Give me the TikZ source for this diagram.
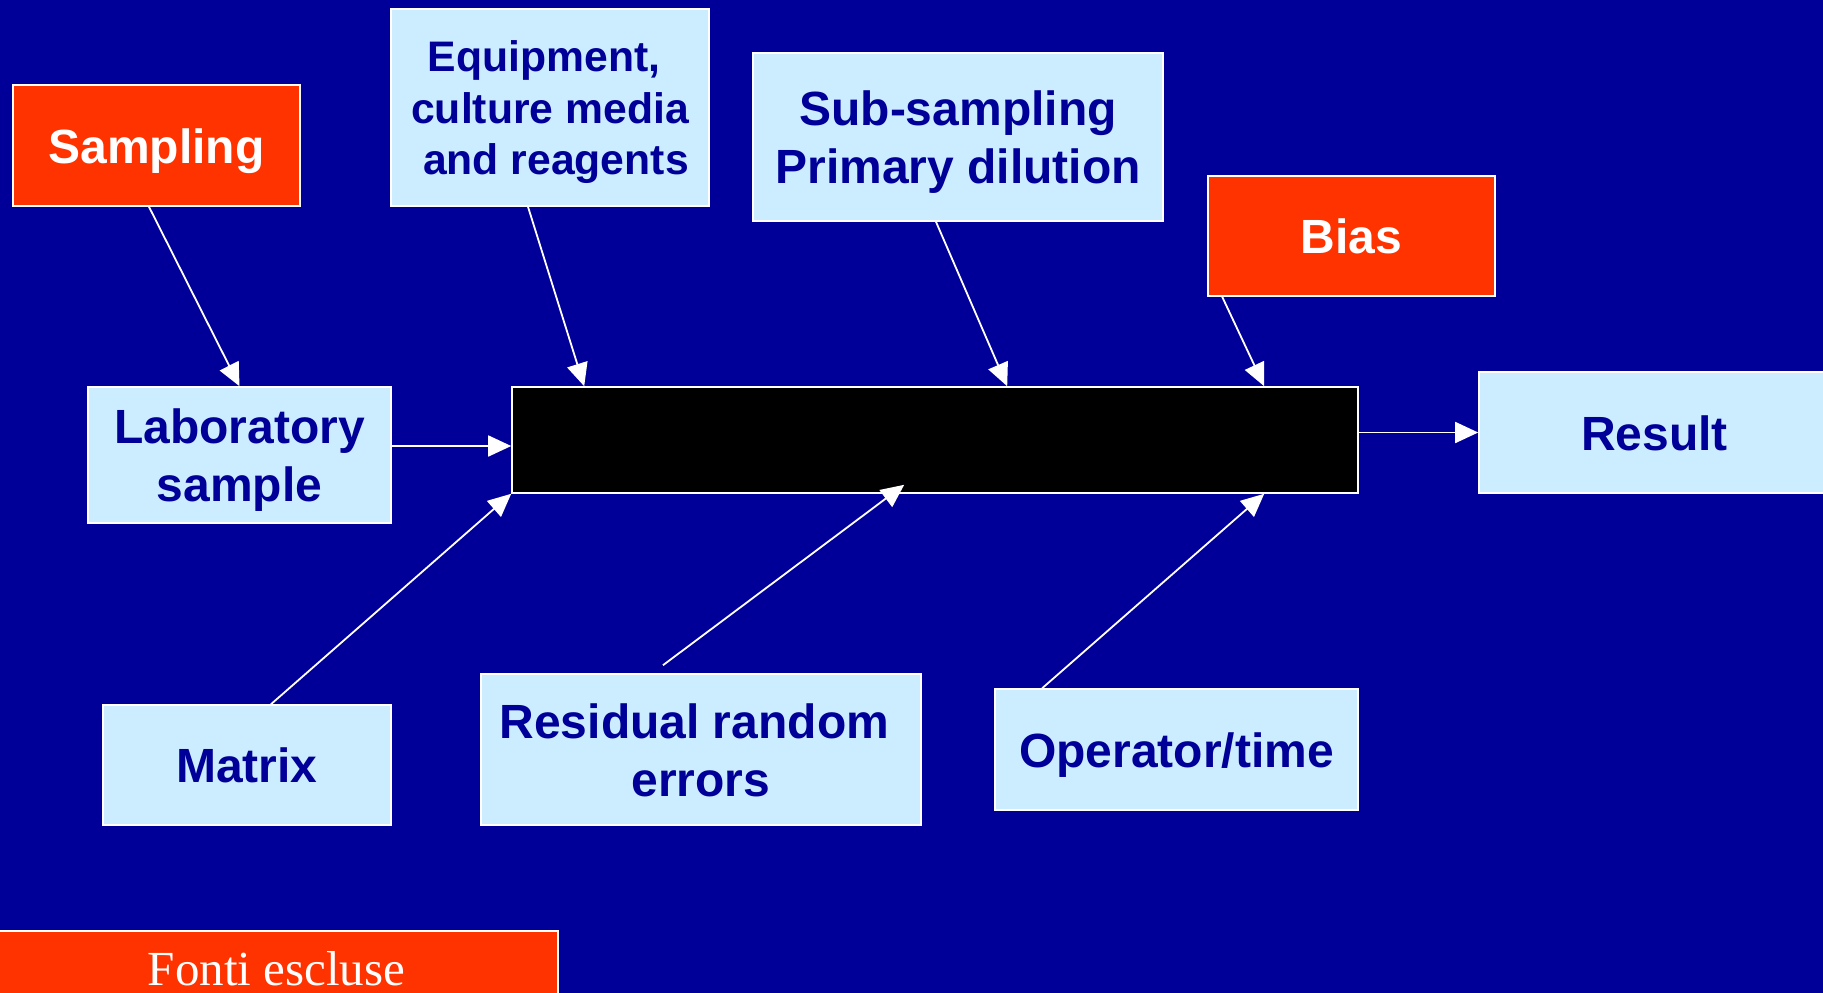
\documentclass[tikz,border=0pt]{standalone}
\usepackage{fontspec}
\setmainfont{Liberation Sans}
\newfontfamily\timesf{Liberation Serif}
\usetikzlibrary{arrows.meta,calc}
\definecolor{bgblue}{RGB}{0,0,153}
\definecolor{lblue}{RGB}{204,236,255}
\definecolor{redo}{RGB}{255,51,0}
\newcommand\pst{\rule[-0.21em]{0pt}{1.16em}}
\newcommand\padsp{\hspace*{0.278em}}
\begin{document}
\begin{tikzpicture}[x=1pt,y=-1pt,
  lbox/.style={draw=white,line width=1.6pt,fill=lblue,text=bgblue,align=center,inner sep=0pt,
    font=\fontsize{48}{58}\selectfont\bfseries},
  rbox/.style={lbox,fill=redo,text=white},
  conn/.style={draw=white,line width=1.8pt,-{Triangle[length=23pt,width=21pt]}}]
\useasboundingbox (0,0) rectangle (1823,993);
\fill[bgblue] (0,0) rectangle (1823,993);
\clip (0,0) rectangle (1823,993);
\node[rbox,minimum width=287pt,minimum height=121pt] (samp) at (156.5,145.5) {\pst Sampling};
\node[lbox,minimum width=318pt,minimum height=197pt,font=\fontsize{42.7}{51.5}\selectfont\bfseries] (equip) at (550,107.5) {\pst Equipment,\padsp\\culture media\\\padsp and reagents\pst};
\node[lbox,minimum width=410pt,minimum height=168pt] (subs) at (958,137) {\pst Sub-sampling\\Primary dilution\pst};
\node[rbox,minimum width=287pt,minimum height=120pt] (bias) at (1351.5,236) {\pst Bias};
\node[lbox,minimum width=303pt,minimum height=136pt] (lab) at (239.5,455) {\pst Laboratory\\sample\pst};
\node[draw=white,line width=1.6pt,fill=black,minimum width=846pt,minimum height=106pt,inner sep=0pt] (proc) at (935,440) {};
\node[lbox,minimum width=351pt,minimum height=121pt] (result) at (1654.5,432.5) {\pst Result};
\node[lbox,minimum width=288pt,minimum height=120pt] (matrix) at (247,765) {\pst Matrix};
\node[lbox,minimum width=440pt,minimum height=151pt] (resid) at (701,749.5) {\pst Residual random\padsp\\errors\pst};
\node[lbox,minimum width=363pt,minimum height=121pt] (oper) at (1176.5,749.5) {\pst Operator/time};
\node[rbox,minimum width=563pt,minimum height=76pt,font=\timesf\fontsize{49}{59}\selectfont] (fonti) at (276.5,969) {Fonti escluse};
\draw[conn] ([xshift=-7.5pt]samp.south) -- (lab.north);
\draw[conn] ([xshift=-22pt]equip.south) -- ([xshift=73pt]proc.north west);
\draw[conn] ([xshift=-22pt]subs.south) -- ([xshift=496pt]proc.north west);
\draw[conn] ([xshift=15pt]bias.south west) -- ([xshift=753pt]proc.north west);
\draw[conn] ([yshift=9pt]lab.east) -- ([yshift=9pt]lab.east -| proc.west);
\draw[conn] (proc.east |- result.west) -- (result.west);
\draw[conn] ([xshift=24pt]matrix.north) -- (proc.south west);
\draw[conn] ([xshift=-38pt,yshift=8pt]resid.north) -- ([xshift=393pt,yshift=9pt]proc.south west);
\draw[conn] ([xshift=48pt]oper.north west) -- ([xshift=753pt]proc.south west);
\end{tikzpicture}
\end{document}
